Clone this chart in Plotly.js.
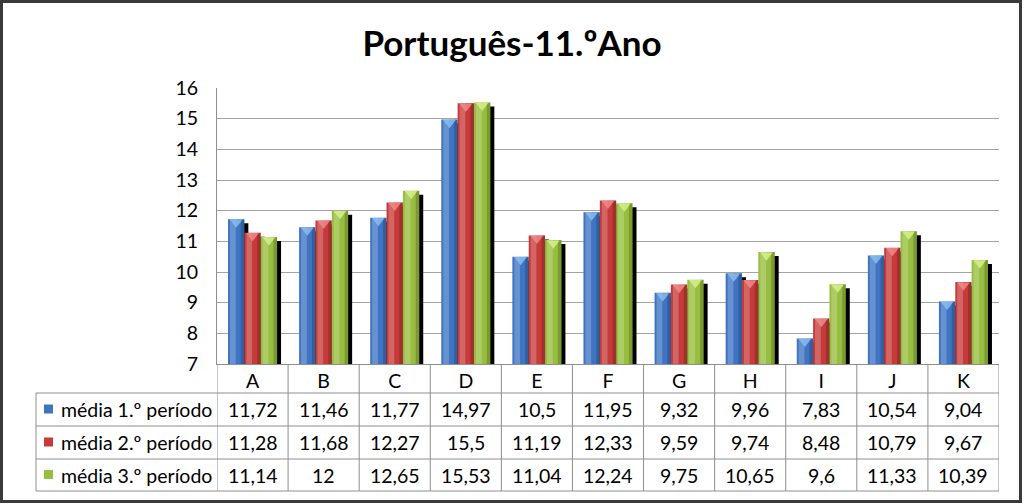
<!DOCTYPE html>
<html>
<head>
<meta charset="utf-8">
<script src="https://cdn.plot.ly/plotly-3.0.1.min.js"></script>
<style>html,body{margin:0;padding:0;background:#fff;}#chart{width:1024px;height:504px;}</style>
</head>
<body>
<div id="chart"></div>
<script>
// ---- data ----
const categories = ['A','B','C','D','E','F','G','H','I','J','K'];
const media1 = [11.72,11.46,11.77,14.97,10.5,11.95,9.32,9.96,7.83,10.54,9.04];
const media2 = [11.28,11.68,12.27,15.5,11.19,12.33,9.59,9.74,8.48,10.79,9.67];
const media3 = [11.14,12,12.65,15.53,11.04,12.24,9.75,10.65,9.6,11.33,10.39];
const seriesNames = ['média 1.º período','média 2.º período','média 3.º período'];
const yTickVals = [7,8,9,10,11,12,13,14,15,16];
const titleText = 'Português-11.ºAno';

// ---- styles ----
const seriesData = [media1, media2, media3];
const colors = ['#3e74c2','#c63b3a','#97be3e'];
const tints = ['#8bbcf0','#f08a88','#d6f08a'];
const W = 1024, H = 504;
const M = {l:217, r:25, t:88, b:140};
const PW = W - M.l - M.r, PH = H - M.t - M.b;
const px2x = p => (p - M.l) / PW;
const py2y = p => (H - M.b - p) / PH;
const idx = categories.map((c,i)=>i);
const barW = 0.23, grpStart = -0.345;
const shadowDx = 0.056, shadowDy = 0.13;

const traces = [];
// shadows
seriesData.forEach((vals,s)=>{
  traces.push({type:'bar', x:idx, y:vals.map(v=>v-shadowDy), width:barW,
    offset:grpStart + s*barW + shadowDx, marker:{color:'#000', line:{width:0}},
    hoverinfo:'skip', showlegend:false});
});
// main bars + shading
seriesData.forEach((vals,s)=>{
  const off = grpStart + s*barW;
  traces.push({type:'bar', x:idx, y:vals, width:barW, offset:off,
    marker:{color:colors[s], line:{width:0}}, name:seriesNames[s], showlegend:false, hoverinfo:'skip'});
  traces.push({type:'bar', x:idx, y:vals, width:barW*0.35, offset:off + barW*0.12,
    marker:{color:'rgba(255,255,255,0.22)', line:{width:0}}, showlegend:false, hoverinfo:'skip'});
  traces.push({type:'bar', x:idx, y:vals, width:barW*0.22, offset:off + barW*0.78,
    marker:{color:'rgba(0,0,0,0.18)', line:{width:0}}, showlegend:false, hoverinfo:'skip'});
  traces.push({type:'scatter', mode:'markers', x:idx.map(i=>i+off+barW/2), y:vals.map(v=>v-0.1),
    marker:{symbol:'triangle-down', size:11, color:tints[s], opacity:0.85, line:{width:0}},
    showlegend:false, hoverinfo:'skip', cliponaxis:true});
});

const lineColor = '#8e8e8e';
const shapes = [];
const rowLines = [393, 426, 459, 491];
rowLines.forEach(p=>{
  shapes.push({type:'line', xref:'paper', yref:'paper', x0:px2x(36), x1:px2x(999), y0:py2y(p), y1:py2y(p),
    line:{color:lineColor, width:1}});
});
shapes.push({type:'line', xref:'paper', yref:'paper', x0:px2x(36), x1:px2x(36), y0:py2y(393), y1:py2y(491),
  line:{color:lineColor, width:1}});
for (let k=0;k<=categories.length;k++){
  shapes.push({type:'line', xref:'x', yref:'paper', x0:k-0.5, x1:k-0.5, y0:0, y1:py2y(491),
    line:{color:lineColor, width:1}});
}
// legend keys
const rowCenters = [409.5, 442.5, 475];
rowCenters.forEach((p,s)=>{
  shapes.push({type:'rect', xref:'paper', yref:'paper', x0:px2x(44), x1:px2x(53), y0:py2y(p-5), y1:py2y(p+4),
    fillcolor:colors[s], line:{width:0}});
});
// outer border
shapes.push({type:'rect', xref:'paper', yref:'paper', x0:px2x(1.5), x1:px2x(1020.5), y0:py2y(1.5), y1:py2y(501.5),
  line:{color:'#3a3a3a', width:3}, fillcolor:'rgba(0,0,0,0)'});

const annotations = [];
const tFont = {family:'Lato, "Open Sans", sans-serif', size:19.5, color:'#000'};
seriesData.forEach((vals,s)=>{
  annotations.push({xref:'paper', yref:'paper', x:px2x(59), y:py2y(rowCenters[s]), text:seriesNames[s],
    showarrow:false, xanchor:'left', yanchor:'middle', font:tFont});
  vals.forEach((v,i)=>{
    annotations.push({xref:'x', yref:'paper', x:i, y:py2y(rowCenters[s]), text:String(v).replace('.',','),
      showarrow:false, xanchor:'center', yanchor:'middle', font:tFont});
  });
});

const layout = {
  width:W, height:H, margin:M, paper_bgcolor:'#fff', plot_bgcolor:'#fff',
  barmode:'overlay', showlegend:false, hovermode:false,
  title:{text:titleText, x:0.5, xref:'container', xanchor:'center', y:1-44/H, yref:'container', yanchor:'middle',
    font:{family:'Lato, "Open Sans", sans-serif', size:35, weight:'bold', color:'#000'}},
  xaxis:{range:[-0.5, categories.length-0.5], tickvals:idx, ticktext:categories, showgrid:false, zeroline:false,
    showline:true, linecolor:lineColor, linewidth:1, ticks:'', tickfont:tFont, fixedrange:true},
  yaxis:{range:[7,16], tickvals:yTickVals, showgrid:true, gridcolor:'#a3a3a3', gridwidth:1, zeroline:false,
    showline:true, linecolor:lineColor, linewidth:1, ticks:'', tickfont:tFont, ticklabelstandoff:14, fixedrange:true},
  shapes:shapes, annotations:annotations
};
Plotly.newPlot('chart', traces, layout, {displayModeBar:false, staticPlot:true});
</script>
</body>
</html>
